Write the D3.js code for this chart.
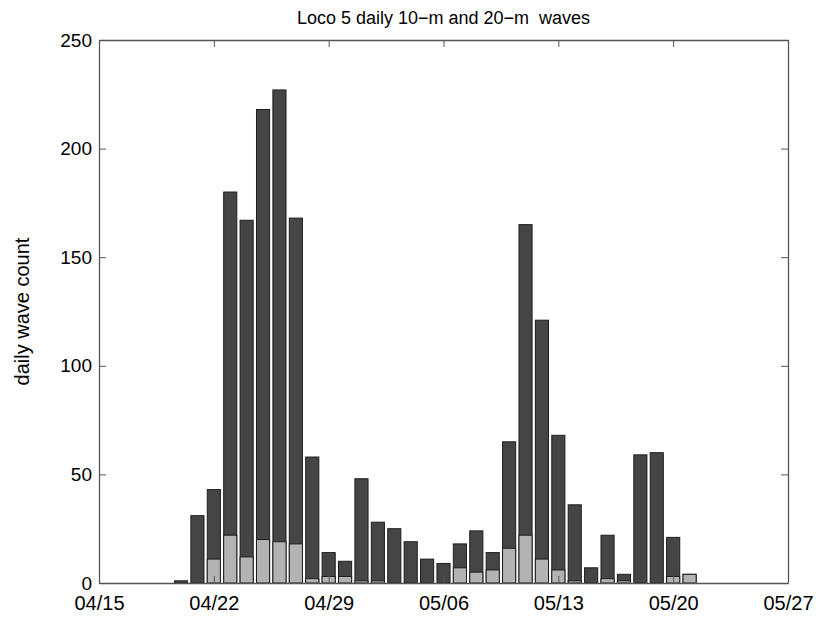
<!DOCTYPE html>
<html>
<head>
<meta charset="utf-8">
<script src="https://cdn.jsdelivr.net/npm/d3@7"></script>
<style>
  body { margin: 0; background: #fff; }
  svg { display: block; font-family: "Liberation Sans", Arial, sans-serif; }
  .axis path, .axis line { stroke: #555; }
</style>
</head>
<body>
<svg width="816" height="618"></svg>
<script>
(function(){
  'use strict';

  var WIDTH = 816;
  var HEIGHT = 618;

  var padding = { top: 40, bottom: 35, left: 99, right: 28 };

  // days with waves, 04/20 .. 05/21
  var days = ['04/20','04/21','04/22','04/23','04/24','04/25','04/26','04/27','04/28','04/29',
              '04/30','05/01','05/02','05/03','05/04','05/05','05/06','05/07','05/08','05/09',
              '05/10','05/11','05/12','05/13','05/14','05/15','05/16','05/17','05/18','05/19',
              '05/20','05/21'];
  // 10-m waves per day
  var waves10 = [1, 31, 43, 180, 167, 218, 227, 168, 58, 14,
                 10, 48, 28, 25, 19, 11, 9, 18, 24, 14,
                 65, 165, 121, 68, 36, 7, 22, 4, 59, 60,
                 21, 4];
  // 20-m waves per day
  var waves20 = [0, 0, 11, 22, 12, 20, 19, 18, 2, 3,
                 3, 1, 1, 0, 0, 0, 0, 7, 5, 6,
                 16, 22, 11, 6, 1, 0, 2, 1, 0, 0,
                 3, 4];
  var xTickLabels = ['04/15','04/22','04/29','05/06','05/13','05/20','05/27'];
  var yTicks = [0, 50, 100, 150, 200, 250];

  var parse = d3.utcParse('%Y/%m/%d');
  function toDate(s) { return parse('2009/' + s); }

  var data = days.map(function(d, i) {
    return { date: toDate(d), n10: waves10[i], n20: waves20[i] };
  });

  var svg = d3.select('svg');
  var plotW = WIDTH - padding.left - padding.right;
  var plotH = HEIGHT - padding.top - padding.bottom;

  var xScale = d3.scaleUtc()
    .domain([toDate(xTickLabels[0]), toDate(xTickLabels[xTickLabels.length - 1])])
    .range([padding.left, padding.left + plotW]);

  var yScale = d3.scaleLinear()
    .domain([0, 250])
    .range([padding.top + plotH, padding.top]);

  var dayW = xScale(toDate('04/16')) - xScale(toDate('04/15'));
  var barW = dayW * 0.8;

  function drawBars(cls, key, fill) {
    svg.append('g')
      .attr('class', cls)
      .selectAll('rect')
      .data(data.filter(function(d) { return d[key] > 0; }))
      .enter()
      .append('rect')
      .attr('x', function(d) { return xScale(d.date) - barW / 2; })
      .attr('y', function(d) { return yScale(d[key]); })
      .attr('width', barW)
      .attr('height', function(d) { return yScale(0) - yScale(d[key]); })
      .attr('fill', fill)
      .attr('stroke', '#1e1e1e')
      .attr('stroke-width', 1);
  }

  drawBars('bars10', 'n10', '#454545');
  drawBars('bars20', 'n20', '#b3b3b3');

  var xTickDates = xTickLabels.map(toDate);
  var fmt = d3.utcFormat('%m/%d');

  // bottom axis with labels, ticks pointing in
  svg.append('g')
    .attr('class', 'axis')
    .attr('transform', 'translate(0,' + (padding.top + plotH) + ')')
    .call(d3.axisBottom(xScale).tickValues(xTickDates).tickFormat(fmt)
      .tickSizeInner(-7).tickSizeOuter(0).tickPadding(13))
    .call(function(g) {
      g.selectAll('text').attr('font-size', 20).attr('fill', '#000')
        .attr('font-family', '"Liberation Sans", Arial, sans-serif');
    });

  // top axis, ticks only
  svg.append('g')
    .attr('class', 'axis')
    .attr('transform', 'translate(0,' + padding.top + ')')
    .call(d3.axisTop(xScale).tickValues(xTickDates).tickFormat('')
      .tickSizeInner(-7).tickSizeOuter(0));

  // left axis
  svg.append('g')
    .attr('class', 'axis')
    .attr('transform', 'translate(' + padding.left + ',0)')
    .call(d3.axisLeft(yScale).tickValues(yTicks)
      .tickSizeInner(-7).tickSizeOuter(0).tickPadding(7))
    .call(function(g) {
      g.selectAll('text').attr('font-size', 19).attr('fill', '#000')
        .attr('font-family', '"Liberation Sans", Arial, sans-serif');
    });

  // right axis, ticks only
  svg.append('g')
    .attr('class', 'axis')
    .attr('transform', 'translate(' + (padding.left + plotW) + ',0)')
    .call(d3.axisRight(yScale).tickValues(yTicks).tickFormat('')
      .tickSizeInner(-7).tickSizeOuter(0));

  svg.selectAll('.axis path').attr('stroke-width', 1.3);

  svg.append('text')
    .attr('x', padding.left + plotW / 2)
    .attr('y', 24)
    .attr('text-anchor', 'middle')
    .attr('font-size', 18)
    .text('Loco 5 daily 10\u2212m and 20\u2212m  waves')
    .style('white-space', 'pre');

  svg.append('text')
    .attr('transform', 'translate(29,' + (padding.top + plotH / 2) + ') rotate(-90)')
    .attr('text-anchor', 'middle')
    .attr('font-size', 20)
    .text('daily wave count');
})();
</script>
</body>
</html>
